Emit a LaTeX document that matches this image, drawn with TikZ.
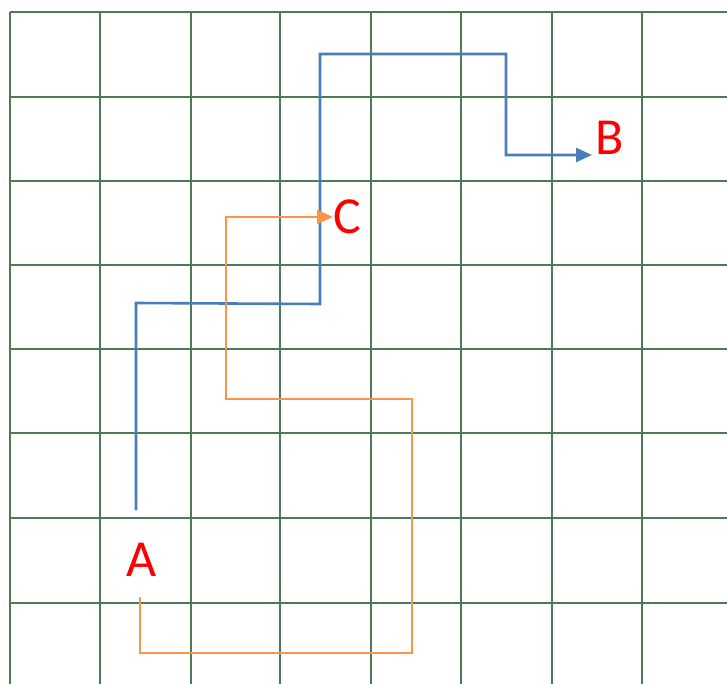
\documentclass[tikz,border=0pt]{standalone}
\usepackage{fontspec}
\setmainfont{Carlito}
\usepackage{xcolor}
\usetikzlibrary{arrows.meta}
\definecolor{gridgreen}{HTML}{4E7A56}
\definecolor{routeblue}{HTML}{4A7EBB}
\definecolor{routeorange}{HTML}{F79646}
\definecolor{labelred}{HTML}{FF0000}

\begin{document}
\begin{tikzpicture}[x=0.5pt,y=-0.5pt,
  gridline/.style={gridgreen,line width=0.65pt},
  bluepath/.style={routeblue,line width=1.3pt},
  orangepath/.style={routeorange,line width=1.4pt},
  tip/.style={-{Triangle[length=8pt,width=7pt]}},
  lbl/.style={font=\fontsize{26}{26}\selectfont,labelred,inner sep=0pt}]
  \useasboundingbox(0,0)rectangle(727,684);
  % Grid
  \foreach \gx in {10,100,191,280,371,461,552,642}
    \draw[gridline](\gx,12)--(\gx,684);
  \foreach \gy in {12,97,181,265,349,433,518,603}
    \draw[gridline](10,\gy)--(727,\gy);
  % Points
  \node[lbl](A)at(142,560){A};
  \node[lbl,anchor=base west](B)at(595,155){B};
  \node[lbl,anchor=west](C)at(333,217){C};
  \coordinate(blueA)at(136,510);
  \coordinate(orangeA)at(140,597);
  % Route A to B
  \draw[bluepath,tip](blueA)--(136,303)--(320,304)--(320,54)--(506,54)
    --(506,155)--([xshift=-1.5pt]B.base west);
  % Route A to C
  \draw[orangepath,tip](orangeA)--(140,653)--(412,653)--(412,399)
    --(226,399)--(226,217)--(C.west);
\end{tikzpicture}
\end{document}
